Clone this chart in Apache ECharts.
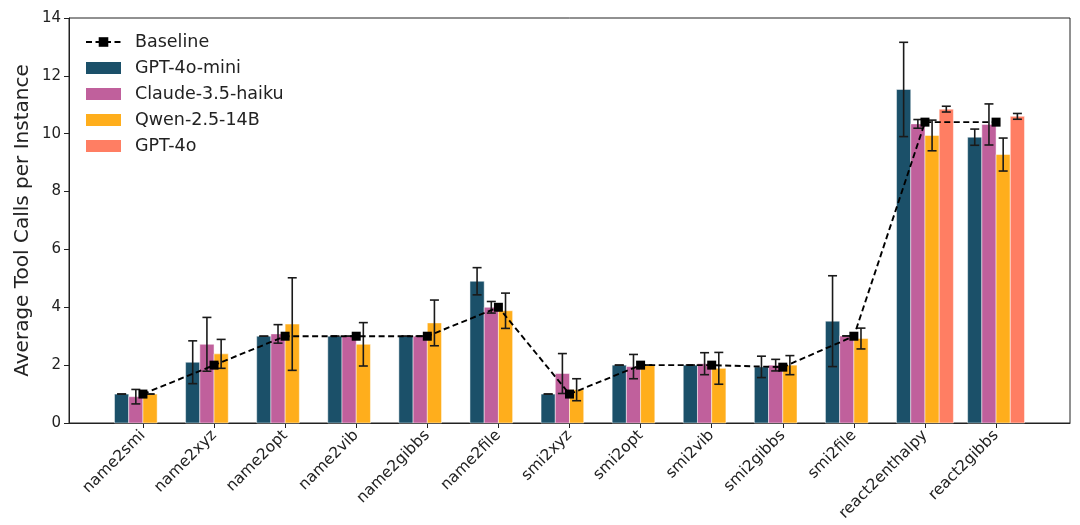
<!DOCTYPE html>
<html>
<head>
<meta charset="utf-8">
<script src="https://cdn.jsdelivr.net/npm/echarts@6/dist/echarts.min.js"></script>
<style>
html,body{margin:0;padding:0;background:#fff;}
#chart{width:1080px;height:525px;}
</style>
</head>
<body>
<div id="chart"></div>
<script>
const categories = ['name2smi','name2xyz','name2opt','name2vib','name2gibbs','name2file','smi2xyz','smi2opt','smi2vib','smi2gibbs','smi2file','react2enthalpy','react2gibbs'];
const yTicks = [0,2,4,6,8,10,12,14];

const baseline = [1.0, 2.0, 3.0, 3.0, 3.0, 4.0, 1.0, 2.0, 2.0, 1.93, 3.0, 10.4, 10.4];

const gpt4oMini    = [1.0, 2.1, 3.0, 3.0, 3.0, 4.9, 1.0, 2.0, 2.0, 1.94, 3.52, 11.53, 9.88];
const gpt4oMiniErr = [0, 0.74, 0, 0, 0, 0.47, 0, 0, 0, 0.37, 1.57, 1.63, 0.28];

const claude    = [0.91, 2.72, 3.08, 3.0, 3.0, 4.0, 1.71, 1.95, 2.05, 2.0, 3.01, 10.34, 10.32];
const claudeErr = [0.25, 0.93, 0.32, 0, 0, 0.2, 0.69, 0.42, 0.38, 0.2, 0, 0.15, 0.71];

const qwen    = [1.0, 2.39, 3.42, 2.72, 3.46, 3.88, 1.15, 2.0, 1.89, 2.0, 2.92, 9.94, 9.28];
const qwenErr = [0, 0.5, 1.6, 0.75, 0.79, 0.61, 0.38, 0, 0.55, 0.33, 0.36, 0.53, 0.57];

const gpt4o    = [null, null, null, null, null, null, null, null, null, null, null, 10.85, 10.6];
const gpt4oErr = [null, null, null, null, null, null, null, null, null, null, null, 0.1, 0.1];

const models = [
  {name: 'GPT-4o-mini',      values: gpt4oMini, errs: gpt4oMiniErr, color: '#1b5069', offset: -0.3},
  {name: 'Claude-3.5-haiku', values: claude,    errs: claudeErr,    color: '#c0609c', offset: -0.1},
  {name: 'Qwen-2.5-14B',     values: qwen,      errs: qwenErr,      color: '#ffae1c', offset: 0.1},
  {name: 'GPT-4o',           values: gpt4o,     errs: gpt4oErr,     color: '#ff7e63', offset: 0.3}
];
const BAR_W = 0.2;

const FONT = 'DejaVu Sans';
const chart = echarts.init(document.getElementById('chart'));

const series = [];
models.forEach(function (m) {
  const data = [];
  m.values.forEach(function (v, i) {
    if (v !== null) data.push([i + m.offset, v, m.errs[i]]);
  });
  series.push({
    type: 'custom',
    name: m.name,
    z: 2,
    itemStyle: {color: m.color},
    encode: {x: 0, y: 1},
    data: data,
    renderItem: function (params, api) {
      const x = api.value(0), y = api.value(1);
      const p1 = api.coord([x - BAR_W / 2, y]);
      const p2 = api.coord([x + BAR_W / 2, 0]);
      return {
        type: 'rect',
        shape: {x: p1[0], y: p1[1], width: p2[0] - p1[0], height: p2[1] - p1[1]},
        style: {fill: m.color, stroke: 'rgba(255,255,255,0.6)', lineWidth: 0.8}
      };
    }
  });
  series.push({
    type: 'custom',
    z: 3,
    encode: {x: 0, y: 1},
    data: data,
    silent: true,
    renderItem: function (params, api) {
      const x = api.value(0), y = api.value(1), e = api.value(2);
      const top = api.coord([x, y + e]);
      const bot = api.coord([x, y - e]);
      const cap = 4.5;
      const st = {stroke: '#1a1a1a', lineWidth: 1.6};
      return {
        type: 'group',
        children: [
          {type: 'line', shape: {x1: top[0], y1: top[1], x2: bot[0], y2: bot[1]}, style: st},
          {type: 'line', shape: {x1: top[0] - cap, y1: top[1], x2: top[0] + cap, y2: top[1]}, style: st},
          {type: 'line', shape: {x1: bot[0] - cap, y1: bot[1], x2: bot[0] + cap, y2: bot[1]}, style: st}
        ]
      };
    }
  });
});

series.push({
  type: 'line',
  name: 'Baseline',
  z: 4,
  data: baseline.map(function (v, i) { return [i, v]; }),
  symbol: 'rect',
  symbolSize: 9,
  itemStyle: {color: '#000'},
  lineStyle: {color: '#000', width: 1.9, type: [6, 3.5]}
});

const option = {
  animation: false,
  backgroundColor: '#fff',
  grid: {left: 69, right: 10, top: 18, bottom: 102, show: true, borderColor: '#222', borderWidth: 1, backgroundColor: 'transparent'},
  legend: {
    orient: 'vertical',
    left: 80,
    top: 28,
    itemWidth: 35,
    itemHeight: 12,
    itemGap: 8,
    textStyle: {fontFamily: FONT, fontSize: 17.5, color: '#222', padding: [0, 0, 0, 9]},
    data: [
      {name: 'Baseline'},
      {name: 'GPT-4o-mini', icon: 'rect'},
      {name: 'Claude-3.5-haiku', icon: 'rect'},
      {name: 'Qwen-2.5-14B', icon: 'rect'},
      {name: 'GPT-4o', icon: 'rect'}
    ]
  },
  xAxis: {
    type: 'value',
    min: -1.04,
    max: 13.04,
    splitLine: {show: false},
    axisLine: {show: true, onZero: false, lineStyle: {color: '#222'}},
    axisTick: {show: true, length: 5, lineStyle: {color: '#222'}, customValues: categories.map(function (c, i) { return i; })},
    axisLabel: {
      customValues: categories.map(function (c, i) { return i; }),
      rotate: 45,
      margin: 10,
      fontFamily: FONT,
      fontSize: 15.5,
      color: '#222',
      formatter: function (v) { return categories[Math.round(v)]; }
    }
  },
  yAxis: {
    type: 'value',
    min: 0,
    max: 14,
    interval: 2,
    splitLine: {show: false},
    axisLine: {show: true, onZero: false, lineStyle: {color: '#222'}},
    axisTick: {show: true, length: 5, lineStyle: {color: '#222'}, customValues: yTicks},
    axisLabel: {customValues: yTicks, fontFamily: FONT, fontSize: 15, color: '#222', margin: 8},
    name: 'Average Tool Calls per Instance',
    nameLocation: 'middle',
    nameMoveOverlap: false,
    nameGap: 36,
    nameTextStyle: {fontFamily: FONT, fontSize: 20, color: '#222'}
  },
  series: series
};
chart.setOption(option);
</script>
</body>
</html>
